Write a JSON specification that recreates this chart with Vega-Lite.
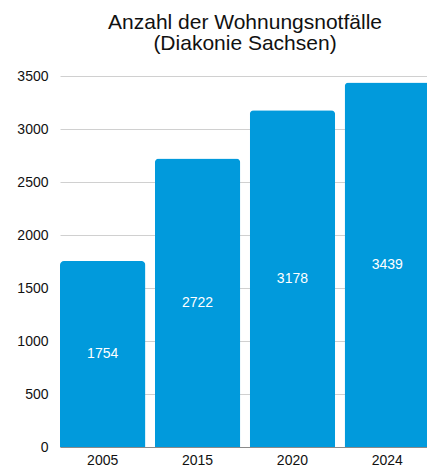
{
  "$schema": "https://vega.github.io/schema/vega-lite/v6.json",
  "autosize": {"type": "none"},
  "padding": {"left": 60, "top": 76, "right": 0, "bottom": 19},
  "width": 370,
  "height": 371,
  "background": "white",
  "title": {
    "text": ["Anzahl der Wohnungsnotfälle", "(Diakonie Sachsen)"],
    "font": "Liberation Sans",
    "fontSize": 21,
    "fontWeight": "normal",
    "lineHeight": 21,
    "color": "#111111",
    "anchor": "middle",
    "offset": 15
  },
  "config": {
    "view": {"stroke": null},
    "font": "Liberation Sans"
  },
  "data": {
    "values": [
      {"year": "2005", "value": 1754},
      {"year": "2015", "value": 2722},
      {"year": "2020", "value": 3178},
      {"year": "2024", "value": 3439}
    ]
  },
  "transform": [{"calculate": "datum.value / 2", "as": "mid"}],
  "encoding": {
    "x": {
      "field": "year",
      "type": "nominal",
      "sort": null,
      "scale": {"paddingInner": 0.1, "paddingOuter": 0},
      "axis": {
        "title": null,
        "labelAngle": 0,
        "ticks": false,
        "domainColor": "#8a8a8a",
        "labelFontSize": 14,
        "labelColor": "#111111",
        "labelPadding": 6,
        "labelFont": "Liberation Sans"
      }
    }
  },
  "layer": [
    {
      "mark": {"type": "bar", "color": "#019ADC", "cornerRadiusTopLeft": 4, "cornerRadiusTopRight": 4},
      "encoding": {
        "y": {
          "field": "value",
          "type": "quantitative",
          "scale": {"domain": [0, 3500], "nice": false},
          "axis": {
            "title": null,
            "values": [0, 500, 1000, 1500, 2000, 2500, 3000, 3500],
            "format": "d",
            "ticks": false,
            "domain": false,
            "gridColor": "#d0d0d0",
            "labelFontSize": 14,
            "labelColor": "#111111",
            "labelPadding": 12,
            "labelFont": "Liberation Sans"
          }
        }
      }
    },
    {
      "mark": {"type": "text", "color": "white", "fontSize": 14, "font": "Liberation Sans", "baseline": "middle"},
      "encoding": {
        "y": {"field": "mid", "type": "quantitative"},
        "text": {"field": "value", "type": "quantitative", "format": "d"}
      }
    }
  ]
}
